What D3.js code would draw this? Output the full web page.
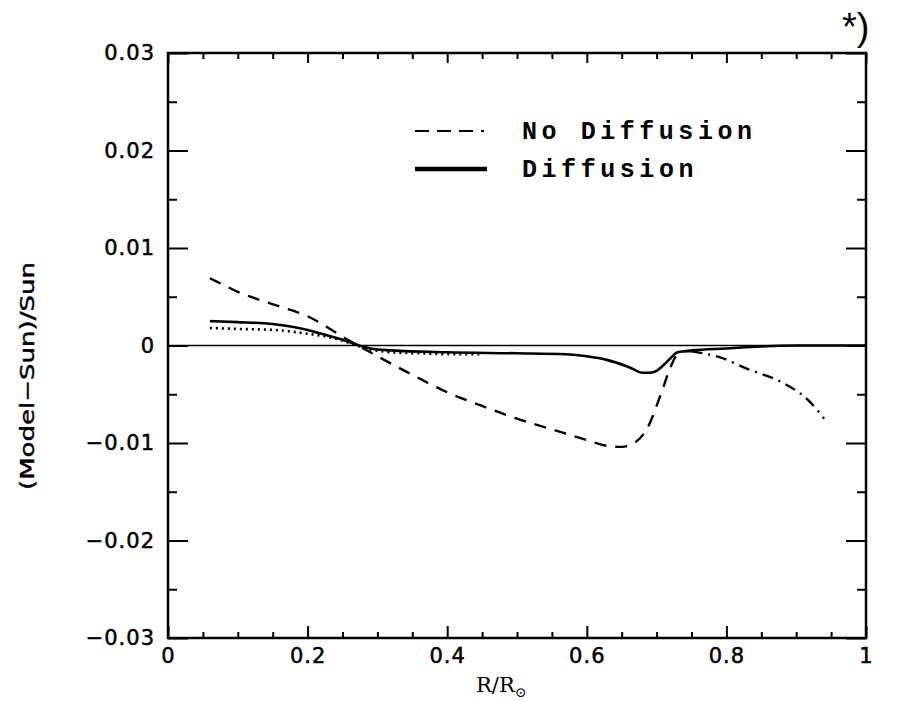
<!DOCTYPE html>
<html>
<head>
<meta charset="utf-8">
<script src="https://cdn.jsdelivr.net/npm/d3@7"></script>
<style>
  html, body { margin: 0; padding: 0; background: #fff; }
  svg { display: block; }
</style>
</head>
<body>
<div id="root"></div>
<script>
const WIDTH = 906
const HEIGHT = 701
const LEFT = 168
const RIGHT = 866
const TOP = 53
const BOTTOM = 638

// No Diffusion, dashed part (inner model)
const noDiffR = [0.06, 0.08, 0.10, 0.13, 0.16, 0.20, 0.23, 0.25, 0.27, 0.30, 0.35, 0.40, 0.45, 0.50, 0.55, 0.60, 0.63, 0.65, 0.67, 0.69, 0.70, 0.71, 0.72, 0.73, 0.74, 0.75]
const noDiffV = [0.0069, 0.0062, 0.0055, 0.0047, 0.0040, 0.0030, 0.0018, 0.0009, 0.0001, -0.0011, -0.0030, -0.0048, -0.0062, -0.0075, -0.0086, -0.0097, -0.0103, -0.0104, -0.0099, -0.0080, -0.0062, -0.0042, -0.0022, -0.0009, -0.0006, -0.0006]

// No Diffusion, dash-dot part (outer zone)
const noDiffOuterR = [0.75, 0.79, 0.83, 0.88, 0.92, 0.94]
const noDiffOuterV = [-0.0006, -0.0012, -0.0024, -0.0038, -0.0058, -0.0075]

// Diffusion (solid)
const diffR = [0.06, 0.10, 0.15, 0.18, 0.20, 0.22, 0.25, 0.27, 0.29, 0.32, 0.40, 0.50, 0.57, 0.60, 0.63, 0.66, 0.68, 0.69, 0.70, 0.71, 0.72, 0.73, 0.75, 0.80, 0.85, 0.90, 1.00]
const diffV = [0.0025, 0.0024, 0.0022, 0.0019, 0.0016, 0.0012, 0.0006, 0.0001, -0.0003, -0.0005, -0.0007, -0.0008, -0.0009, -0.0011, -0.0015, -0.0022, -0.0028, -0.0028, -0.0026, -0.0020, -0.0013, -0.0007, -0.0005, -0.0003, -0.0001, 0.0000, 0.0000]

// unlabelled dotted curve
const dottedR = [0.06, 0.10, 0.15, 0.18, 0.20, 0.22, 0.25, 0.27, 0.29, 0.32, 0.36, 0.40, 0.45]
const dottedV = [0.0018, 0.0017, 0.0016, 0.0014, 0.0012, 0.0010, 0.0005, 0.0000, -0.0004, -0.0007, -0.0008, -0.0009, -0.0009]

const xMajor = [0, 0.2, 0.4, 0.6, 0.8, 1]
const xMinor = d3.range(0.05, 1, 0.05).filter(v => Math.abs(v * 5 - Math.round(v * 5)) > 1e-6)
const yMajor = [-0.03, -0.02, -0.01, 0, 0.01, 0.02, 0.03]
const yMinor = [-0.025, -0.015, -0.005, 0.005, 0.015, 0.025]

const legendItems = [
  { label: 'No Diffusion', dash: '14,8,14,8,14,8,3', width: 2.2 },
  { label: 'Diffusion', dash: null, width: 4.5 }
]

const xScale = d3.scaleLinear().domain([0, 1]).range([LEFT, RIGHT])
const yScale = d3.scaleLinear().domain([-0.03, 0.03]).range([BOTTOM, TOP])

const xFmt = v => (v === 0 || v === 1) ? d3.format('d')(v) : d3.format('.1f')(v)
const yFmt = v => v === 0 ? '0' : d3.format('.2f')(v)

const svg = d3.select('#root')
  .append('svg')
  .attr('width', WIDTH)
  .attr('height', HEIGHT)

const styleAxis = g => {
  g.select('.domain').remove()
  g.selectAll('line').attr('stroke', '#000').attr('stroke-width', 2)
  g.selectAll('text')
    .attr('fill', '#000')
    .attr('stroke', '#000')
    .attr('stroke-width', 0.5)
    .style('font-family', '"DejaVu Sans", sans-serif')
    .style('font-size', '21px')
    .style('letter-spacing', '1px')
}

// left axis
svg.append('g')
  .attr('transform', `translate(${LEFT},0)`)
  .call(d3.axisLeft(yScale).tickValues(yMajor).tickSize(-20).tickPadding(13).tickFormat(yFmt))
  .call(styleAxis)
svg.append('g')
  .attr('transform', `translate(${LEFT},0)`)
  .call(d3.axisLeft(yScale).tickValues(yMinor).tickSize(-9).tickFormat(''))
  .call(styleAxis)

// right axis
svg.append('g')
  .attr('transform', `translate(${RIGHT},0)`)
  .call(d3.axisRight(yScale).tickValues(yMajor).tickSize(-20).tickFormat(''))
  .call(styleAxis)
svg.append('g')
  .attr('transform', `translate(${RIGHT},0)`)
  .call(d3.axisRight(yScale).tickValues(yMinor).tickSize(-9).tickFormat(''))
  .call(styleAxis)

// bottom axis
svg.append('g')
  .attr('transform', `translate(0,${BOTTOM})`)
  .call(d3.axisBottom(xScale).tickValues(xMajor).tickSize(-12).tickPadding(10).tickFormat(xFmt))
  .call(styleAxis)
svg.append('g')
  .attr('transform', `translate(0,${BOTTOM})`)
  .call(d3.axisBottom(xScale).tickValues(xMinor).tickSize(-6).tickFormat(''))
  .call(styleAxis)

// top axis
svg.append('g')
  .attr('transform', `translate(0,${TOP})`)
  .call(d3.axisTop(xScale).tickValues(xMajor).tickSize(-10).tickFormat(''))
  .call(styleAxis)
svg.append('g')
  .attr('transform', `translate(0,${TOP})`)
  .call(d3.axisTop(xScale).tickValues(xMinor).tickSize(-6).tickFormat(''))
  .call(styleAxis)

// frame
svg.append('rect')
  .attr('x', LEFT)
  .attr('y', TOP)
  .attr('width', RIGHT - LEFT)
  .attr('height', BOTTOM - TOP)
  .attr('fill', 'none')
  .attr('stroke', '#000')
  .attr('stroke-width', 2.5)

// zero line
svg.append('line')
  .attr('x1', xScale(0))
  .attr('x2', xScale(1))
  .attr('y1', yScale(0))
  .attr('y2', yScale(0))
  .attr('stroke', '#000')
  .attr('stroke-width', 1.6)

const line = d3.line()
  .x(d => xScale(d[0]))
  .y(d => yScale(d[1]))
  .curve(d3.curveMonotoneX)

const series = [
  { r: dottedR, v: dottedV, dash: '2,4', width: 2.6 },
  { r: diffR, v: diffV, dash: null, width: 2.6 },
  { r: noDiffR, v: noDiffV, dash: '12,9', width: 2.4 },
  { r: noDiffOuterR, v: noDiffOuterV, dash: '11,6,2,6', width: 2.4 }
]

series.forEach(s => {
  svg.append('path')
    .datum(s.r.map((r, i) => [r, s.v[i]]))
    .attr('d', line)
    .attr('fill', 'none')
    .attr('stroke', '#000')
    .attr('stroke-width', s.width)
    .attr('stroke-dasharray', s.dash)
})

// legend
const legend = svg.append('g').attr('id', 'legend')
legendItems.forEach((item, i) => {
  const y = 131 + i * 38
  legend.append('line')
    .attr('x1', 415)
    .attr('x2', 487)
    .attr('y1', y)
    .attr('y2', y)
    .attr('stroke', '#000')
    .attr('stroke-width', item.width)
    .attr('stroke-dasharray', item.dash)
  legend.append('text')
    .attr('x', 522)
    .attr('y', y + 8)
    .attr('textLength', item.label.length * 19.5 - 4)
    .attr('lengthAdjust', 'spacing')
    .style('font-family', '"Liberation Mono", monospace')
    .style('font-size', '25px')
    .style('font-weight', 'bold')
    .text(item.label)
})

// axis titles
const xTitle = svg.append('text')
  .attr('x', 476)
  .attr('y', 692)
  .style('font-family', '"DejaVu Serif", serif')
  .style('font-size', '21px')
xTitle.append('tspan').text('R/R')
xTitle.append('tspan')
  .attr('dy', 5)
  .style('font-size', '14px')
  .text('⊙')

svg.append('text')
  .attr('transform', 'translate(34,376) rotate(-90)')
  .attr('text-anchor', 'middle')
  .attr('textLength', 228)
  .attr('lengthAdjust', 'spacingAndGlyphs')
  .attr('stroke', '#000')
  .attr('stroke-width', 0.4)
  .style('font-family', '"DejaVu Sans Condensed", "DejaVu Sans", sans-serif')
  .style('font-size', '20px')
  .text('(Model−Sun)/Sun')

svg.append('text')
  .attr('x', 842)
  .attr('y', 40)
  .style('font-family', '"Liberation Sans", sans-serif')
  .style('font-size', '38px')
  .text('*)')
</script>
</body>
</html>
